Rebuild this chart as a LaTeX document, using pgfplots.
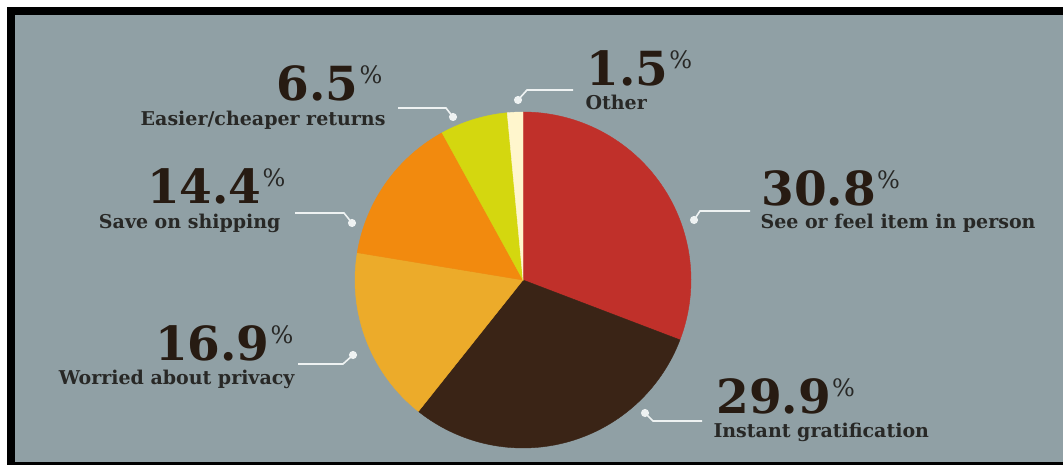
\documentclass[border=0pt]{standalone}
\usepackage{pgfplots}
\pgfplotsset{compat=1.18}
\usepackage{fontspec}
\setmainfont{DejaVu Serif}
\definecolor{bg}{RGB}{144,160,165}
\definecolor{cRed}{RGB}{192,48,42}
\definecolor{cBrown}{RGB}{58,36,22}
\definecolor{cGold}{RGB}{236,171,42}
\definecolor{cOrange}{RGB}{242,138,14}
\definecolor{cLime}{RGB}{212,215,15}
\definecolor{cCream}{RGB}{255,246,205}
\definecolor{numcol}{RGB}{39,27,18}
\definecolor{labcol}{RGB}{40,40,38}
\definecolor{linecol}{RGB}{238,242,242}
% shares (percent), clockwise from 12 o'clock
\def\pA{30.8}\def\pB{29.9}\def\pC{16.9}\def\pD{14.4}\def\pE{6.5}\def\pF{1.5}
\pgfmathsetmacro\aA{90-3.6*\pA}
\pgfmathsetmacro\aB{\aA-3.6*\pB}
\pgfmathsetmacro\aC{\aB-3.6*\pC}
\pgfmathsetmacro\aD{\aC-3.6*\pD}
\pgfmathsetmacro\aE{\aD-3.6*\pE}
\pgfmathsetmacro\aF{\aE-3.6*\pF}
\newcommand\bignum[1]{{\color{numcol}\fontsize{47}{47}\selectfont\bfseries #1}\kern1pt\raisebox{17pt}{\color{labcol}\fontsize{24}{24}\selectfont\%}}
\newcommand\lab[1]{{\color{labcol}\fontsize{19}{19}\selectfont\bfseries #1}}
\begin{document}
\begin{tikzpicture}
\fill[white] (0,0) rectangle (1063pt,465pt);
\fill[black] (7pt,0) rectangle (1063pt,458pt);
\fill[bg] (15pt,3pt) rectangle (1063pt,450pt);
\begin{axis}[x=1pt,y=1pt,xmin=0,xmax=1063,ymin=0,ymax=465,hide axis,clip=false,
  every node/.style={inner sep=0pt}]
\def\cx{523}\def\cy{185}\def\R{168}
\addplot[fill=cRed,draw=cRed,line width=0.4pt,domain=\aA:90,samples=80,variable=\t] ({\cx+\R*cos(\t)},{\cy+\R*sin(\t)}) -- (axis cs:\cx,\cy) -- cycle;
\addplot[fill=cBrown,draw=cBrown,line width=0.4pt,domain=\aB:\aA,samples=80,variable=\t] ({\cx+\R*cos(\t)},{\cy+\R*sin(\t)}) -- (axis cs:\cx,\cy) -- cycle;
\addplot[fill=cGold,draw=cGold,line width=0.4pt,domain=\aC:\aB,samples=60,variable=\t] ({\cx+\R*cos(\t)},{\cy+\R*sin(\t)}) -- (axis cs:\cx,\cy) -- cycle;
\addplot[fill=cOrange,draw=cOrange,line width=0.4pt,domain=\aD:\aC,samples=60,variable=\t] ({\cx+\R*cos(\t)},{\cy+\R*sin(\t)}) -- (axis cs:\cx,\cy) -- cycle;
\addplot[fill=cLime,draw=cLime,line width=0.4pt,domain=\aE:\aD,samples=30,variable=\t] ({\cx+\R*cos(\t)},{\cy+\R*sin(\t)}) -- (axis cs:\cx,\cy) -- cycle;
\addplot[fill=cCream,draw=cCream,line width=0.4pt,domain=\aF:\aE,samples=10,variable=\t] ({\cx+\R*cos(\t)},{\cy+\R*sin(\t)}) -- (axis cs:\cx,\cy) -- cycle;
% leader lines
\pgfplotsset{leader/.style={linecol,line width=1.6pt,mark=*,mark indices={1},mark size=3.2pt,mark options={fill=linecol,draw=none}}}
\addplot[leader] coordinates {(518,365) (527,375) (573,375)};
\addplot[leader] coordinates {(453,348) (446,357) (398,357)};
\addplot[leader] coordinates {(352,242) (344,252) (295,252)};
\addplot[leader] coordinates {(353,110) (343,101) (298,101)};
\addplot[leader] coordinates {(694,245) (700,254) (750,254)};
\addplot[leader] coordinates {(645,52) (653,44) (702,44)};
% labels
\node[anchor=base west] at (axis cs:758,259) {\bignum{30.8}};
\node[anchor=base west] at (axis cs:757,236) {\lab{See or feel item in person}};
\node[anchor=base west] at (axis cs:713,51) {\bignum{29.9}};
\node[anchor=base west] at (axis cs:710,27) {\lab{Instant gratification}};
\node[anchor=base west] at (axis cs:583,379) {\bignum{1.5}};
\node[anchor=base west] at (axis cs:582,355) {\lab{Other}};
\node[anchor=base east] at (axis cs:386,364) {\bignum{6.5}};
\node[anchor=base east] at (axis cs:389,339) {\lab{Easier/cheaper returns}};
\node[anchor=base east] at (axis cs:289,261) {\bignum{14.4}};
\node[anchor=base east] at (axis cs:284,236) {\lab{Save on shipping}};
\node[anchor=base east] at (axis cs:297,104) {\bignum{16.9}};
\node[anchor=base east] at (axis cs:298,80) {\lab{Worried about privacy}};
\end{axis}
\pgfresetboundingbox
\useasboundingbox (0,0) rectangle (1063pt,465pt);
\end{tikzpicture}
\end{document}
